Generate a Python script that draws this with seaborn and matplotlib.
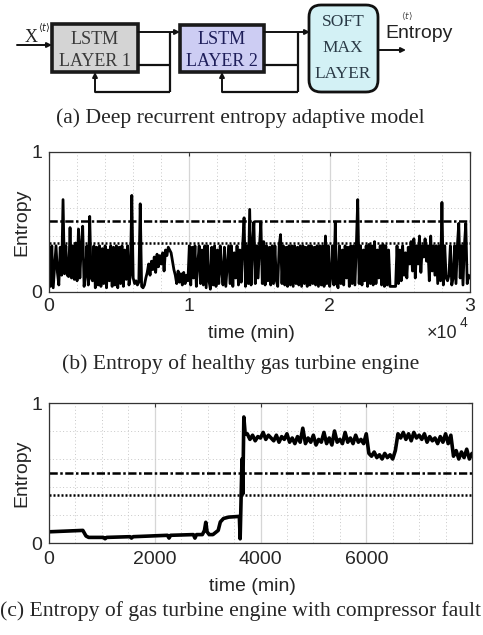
import numpy as np
import pandas as pd
import matplotlib
matplotlib.use('Agg')
import matplotlib.pyplot as plt
import seaborn as sns
from matplotlib.patches import Rectangle, FancyBboxPatch
from matplotlib.ticker import MultipleLocator

# --- data ---

# (b) healthy engine, one reading every 100 min
b_step = 100
b_entropy = [
    0.32, 0.04, 0.33, 0.03, 0.18, 0.33, 0.14, 0.05, 0.32, 0.12,
    0.66, 0.13, 0.33, 0.12, 0.11, 0.46, 0.10, 0.33, 0.09, 0.35,
    0.08, 0.45, 0.10, 0.33, 0.47, 0.04, 0.12, 0.33, 0.05, 0.54,
    0.10, 0.08, 0.33, 0.03, 0.32, 0.05, 0.33, 0.04, 0.31, 0.06,
    0.33, 0.03, 0.30, 0.08, 0.33, 0.04, 0.32, 0.05, 0.33, 0.03,
    0.32, 0.06, 0.33, 0.04, 0.30, 0.09, 0.33, 0.05, 0.12, 0.69,
    0.10, 0.06, 0.08, 0.05, 0.07, 0.63, 0.04, 0.03, 0.05, 0.10,
    0.14, 0.20, 0.12, 0.22, 0.16, 0.25, 0.14, 0.27, 0.18, 0.26,
    0.20, 0.28, 0.15, 0.30, 0.26, 0.32, 0.30, 0.28, 0.22, 0.16,
    0.12, 0.06, 0.15, 0.07, 0.13, 0.05, 0.14, 0.06, 0.12, 0.08,
    0.33, 0.05, 0.32, 0.10, 0.33, 0.04, 0.20, 0.33, 0.06, 0.30,
    0.05, 0.33, 0.03, 0.33, 0.08, 0.02, 0.32, 0.05, 0.33, 0.04,
    0.30, 0.06, 0.33, 0.15, 0.05, 0.32, 0.04, 0.18, 0.33, 0.06,
    0.33, 0.04, 0.28, 0.10, 0.33, 0.05, 0.30, 0.07, 0.33, 0.53,
    0.04, 0.33, 0.06, 0.59, 0.05, 0.33, 0.50, 0.06, 0.33, 0.10,
    0.33, 0.50, 0.06, 0.36, 0.05, 0.33, 0.08, 0.32, 0.05, 0.33,
    0.06, 0.33, 0.08, 0.04, 0.33, 0.41, 0.06, 0.33, 0.05, 0.32,
    0.04, 0.33, 0.05, 0.33, 0.04, 0.33, 0.06, 0.32, 0.05, 0.33,
    0.04, 0.33, 0.06, 0.32, 0.04, 0.33, 0.05, 0.33, 0.06, 0.32,
    0.05, 0.33, 0.04, 0.33, 0.05, 0.33, 0.04, 0.40, 0.06, 0.33,
    0.04, 0.12, 0.33, 0.05, 0.50, 0.06, 0.03, 0.33, 0.06, 0.30,
    0.05, 0.33, 0.10, 0.32, 0.04, 0.33, 0.06, 0.33, 0.05, 0.33,
    0.66, 0.06, 0.33, 0.05, 0.30, 0.08, 0.33, 0.04, 0.34, 0.06,
    0.33, 0.05, 0.36, 0.06, 0.30, 0.10, 0.33, 0.05, 0.34, 0.04,
    0.33, 0.05, 0.30, 0.04, 0.04, 0.04, 0.04, 0.04, 0.33, 0.06,
    0.30, 0.08, 0.33, 0.12, 0.28, 0.10, 0.32, 0.20, 0.36, 0.15,
    0.38, 0.10, 0.33, 0.20, 0.40, 0.14, 0.33, 0.25, 0.38, 0.22,
    0.33, 0.08, 0.40, 0.15, 0.33, 0.12, 0.33, 0.06, 0.33, 0.08,
    0.64, 0.05, 0.33, 0.10, 0.08, 0.12, 0.33, 0.05, 0.10, 0.33,
    0.06, 0.33, 0.49, 0.10, 0.33, 0.05, 0.33, 0.49, 0.06, 0.12,
    0.10,
]
b_dashdot = 0.51
b_dotted = 0.35
b_xticks = [0, 10000, 20000, 30000]
b_xticklabels = ['0', '1', '2', '3']

# (c) compressor fault: slow part before the fault, then readings every 50 min
c_early_time = [0, 640, 700, 750, 1030, 1060, 1090, 1530, 1560, 1590,
                2240, 2270, 2300, 2730, 2760, 2790, 2900, 2940, 2965, 2990,
                3030, 3100, 3200, 3240, 3300, 3400, 3600, 3615, 3625, 3650,
                3665, 3685, 3710]
c_early_entropy = [0.08, 0.09, 0.05, 0.04, 0.04, 0.03, 0.04, 0.045, 0.035, 0.045,
                   0.055, 0.035, 0.055, 0.06, 0.035, 0.06, 0.06, 0.09, 0.148, 0.08,
                   0.06, 0.06, 0.09, 0.15, 0.175, 0.185, 0.19, 0.03, 0.19, 0.6,
                   0.35, 0.9, 0.78]
c_late_start = 3750
c_late_step = 50
c_late_entropy = [
    0.78, 0.74, 0.77, 0.73, 0.76, 0.75, 0.79, 0.74, 0.77, 0.75,
    0.73, 0.77, 0.72, 0.76, 0.74, 0.78, 0.72, 0.75, 0.71, 0.76,
    0.72, 0.82, 0.71, 0.75, 0.72, 0.77, 0.70, 0.74, 0.72, 0.79,
    0.71, 0.75, 0.70, 0.80, 0.72, 0.74, 0.71, 0.79, 0.72, 0.75,
    0.71, 0.77, 0.72, 0.74, 0.71, 0.78,
    0.64, 0.62, 0.65, 0.61, 0.63, 0.60, 0.64, 0.61, 0.63, 0.60,
    0.66, 0.78, 0.75, 0.79, 0.74, 0.78, 0.73, 0.79, 0.75, 0.77,
    0.74, 0.78, 0.72, 0.76, 0.73, 0.75, 0.71, 0.76, 0.72, 0.78,
    0.71, 0.77,
    0.62, 0.66, 0.60, 0.65, 0.61, 0.67, 0.60, 0.64,
]
c_dashdot = 0.50
c_dotted = 0.34
c_xticks = [0, 2000, 4000, 6000]
c_xticklabels = ['0', '2000', '4000', '6000']

captions = ['(a) Deep recurrent entropy adaptive model',
            '(b) Entropy of healthy gas turbine engine',
            '(c) Entropy of gas turbine engine with compressor fault']

b_df = pd.DataFrame({'time': np.arange(len(b_entropy)) * b_step, 'entropy': b_entropy})
c_late_time = c_late_start + c_late_step * np.arange(len(c_late_entropy))
c_df = pd.DataFrame({'time': np.concatenate([c_early_time, c_late_time]),
                     'entropy': c_early_entropy + c_late_entropy})

sns.set_style('white')
plt.rcParams['font.family'] = ['Liberation Sans', 'DejaVu Sans']

W, H = 483, 635
fig = plt.figure(figsize=(W / 100, H / 100), dpi=100)

# overlay in pixel coordinates for the block diagram and captions
ov = fig.add_axes([0, 0, 1, 1])
ov.set_xlim(0, W)
ov.set_ylim(H, 0)
ov.axis('off')

serif = ['Liberation Serif', 'DejaVu Serif']


def arrow(x0, y0, x1, y1):
    ov.annotate('', xy=(x1, y1), xytext=(x0, y0),
                arrowprops=dict(arrowstyle='-|>', lw=1.4, color='#111111',
                                mutation_scale=7, shrinkA=0, shrinkB=0))


def seg(xs, ys):
    ov.plot(xs, ys, color='#111111', lw=1.6, solid_capstyle='butt')


ov.add_patch(Rectangle((52, 24), 86, 48, facecolor='#d4d4d4', edgecolor='#1a1a1a', lw=2.6))
ov.add_patch(Rectangle((180, 25), 84, 47, facecolor='#cdcdf3', edgecolor='#1a1a1a', lw=2.6))
ov.add_patch(FancyBboxPatch((312, 8), 63, 81, boxstyle='round,pad=3,rounding_size=12',
                            facecolor='#d3f1f5', edgecolor='#111111', lw=2.0))

ov.text(95, 40, 'LSTM', family=serif, fontsize=13, color='#3a3a3a', ha='center', va='center')
ov.text(95, 61, 'LAYER 1', family=serif, fontsize=13, color='#3a3a3a', ha='center', va='center')
ov.text(222, 40, 'LSTM', family=serif, fontsize=13, color='#1e1e5a', ha='center', va='center')
ov.text(222, 61, 'LAYER 2', family=serif, fontsize=13, color='#1e1e5a', ha='center', va='center')
ov.text(343, 22, 'SOFT', family=serif, fontsize=12.5, color='#2a3a46', ha='center', va='center')
ov.text(343, 48, 'MAX', family=serif, fontsize=12.5, color='#2a3a46', ha='center', va='center')
ov.text(343, 74, 'LAYER', family=serif, fontsize=12.5, color='#2a3a46', ha='center', va='center')

# input
arrow(17, 45, 52, 45)
ov.text(31, 38, 'X', family=serif, fontsize=13, color='#222222', ha='center', va='center')
ov.text(44, 27, r'$\langle t\rangle$', fontsize=7, color='#222222', ha='center', va='center')

# layer 1 outputs and recurrence
arrow(138, 32, 180, 32)
seg([138, 170], [65, 65])
seg([170, 170], [32, 92])
seg([170, 95], [92, 92])
arrow(95, 92, 95, 72)

# layer 2 outputs and recurrence
arrow(264, 32, 310, 32)
seg([264, 298], [65, 65])
seg([298, 298], [32, 92])
seg([298, 222], [92, 92])
arrow(222, 92, 222, 72)

# softmax output
arrow(378, 50, 406, 50)
ov.text(419, 33, 'Entropy', fontsize=14, color='#222222', ha='center', va='center')
ov.text(407, 16, r'$\langle t\rangle$', fontsize=6.5, color='#444444', ha='center', va='center')

ov.text(240, 118, captions[0], family=serif, fontsize=15.6, ha='center', va='center')
ov.text(241, 364, captions[1], family=serif, fontsize=15.6, ha='center', va='center')
ov.text(240, 611, captions[2], family=serif, fontsize=15.6, ha='center', va='center')

# x10^4 multiplier of panel (b)
ov.text(442, 334, '×10', fontsize=13, ha='center', va='center')
ov.text(464, 323, '4', fontsize=10, ha='center', va='center')


def style_axes(ax, xmax, minor_x, xticks, xticklabels):
    ax.set_xlim(0, xmax)
    ax.set_ylim(0, 1)
    ax.set_xticks(xticks)
    ax.set_xticklabels(xticklabels)
    ax.set_yticks([0, 1])
    ax.set_yticklabels(['0', '1'])
    ax.xaxis.set_minor_locator(MultipleLocator(minor_x))
    ax.yaxis.set_minor_locator(MultipleLocator(0.2))
    ax.grid(which='major', color='#d6d6d6', lw=0.9, ls='-')
    ax.grid(which='minor', color='#c8c8c8', lw=0.7, ls=(0, (1, 2.5)))
    ax.set_axisbelow(True)
    ax.tick_params(which='major', direction='in', top=True, right=True, length=3,
                   width=0.8, labelsize=14, color='#333333')
    ax.tick_params(axis='x', pad=4)
    ax.tick_params(axis='y', pad=5)
    ax.tick_params(which='minor', length=0)
    for s in ax.spines.values():
        s.set_color('#333333')
        s.set_linewidth(0.9)
    ax.set_ylabel('Entropy', fontsize=14)
    ax.yaxis.set_label_coords(-0.045, 0.5)
    ax.set_xlabel('time (min)', fontsize=14, va='center')


ax_b = fig.add_axes([49 / W, 1 - 292 / H, 421 / W, 140 / H])
sns.lineplot(data=b_df, x='time', y='entropy', ax=ax_b, color='black', lw=2.0,
             estimator=None, sort=False)
ax_b.axhline(b_dashdot, color='black', lw=1.8, ls=(0, (3.3, 1, 1, 1)))
ax_b.axhline(b_dotted, color='black', lw=1.8, ls=(0, (0.8, 0.8)))
style_axes(ax_b, 30000, 2000, b_xticks, b_xticklabels)
ax_b.xaxis.set_label_coords(0.48, -0.30)

ax_c = fig.add_axes([49 / W, 1 - 543 / H, 423 / W, 140 / H])
sns.lineplot(data=c_df, x='time', y='entropy', ax=ax_c, color='black', lw=2.6,
             estimator=None, sort=False)
ax_c.axhline(c_dashdot, color='black', lw=1.8, ls=(0, (3.3, 1, 1, 1)))
ax_c.axhline(c_dotted, color='black', lw=1.8, ls=(0, (0.8, 0.8)))
style_axes(ax_c, 8000, 500, c_xticks, c_xticklabels)
ax_c.tick_params(axis='x', pad=6)
ax_c.xaxis.set_label_coords(0.48, -0.31)

fig.savefig('out.png', dpi=100)
